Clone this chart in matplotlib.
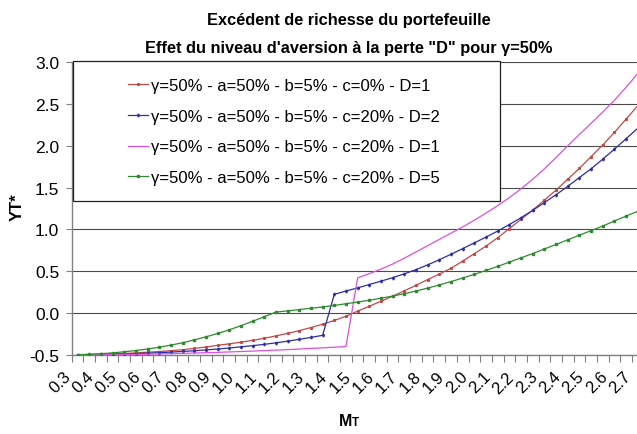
import matplotlib

matplotlib.use("Agg")
import matplotlib.pyplot as plt
import matplotlib.transforms as mtransforms
import numpy as np
from matplotlib.patches import Rectangle

plt.rcParams["font.family"] = ["Liberation Sans", "DejaVu Sans"]

# Valeurs de M_T (pas de 0.05) et étiquettes affichées une sur deux
m_values = [round(0.30 + 0.05 * i, 2) for i in range(49)]
tick_labels = [f"{m:.1f}" for m in m_values[::2]]

# gamma=50% a=50% b=5% c=0% D=1
y_c0_d1 = [
    -0.500, -0.498, -0.495, -0.490, -0.485, -0.478, -0.470, -0.462, -0.452, -0.440,
    -0.425, -0.408, -0.388, -0.370, -0.350, -0.328, -0.303, -0.275, -0.245, -0.212,
    -0.175, -0.135, -0.090, -0.040, 0.022, 0.080, 0.140, 0.200, 0.265, 0.330,
    0.400, 0.465, 0.535, 0.620, 0.710, 0.800, 0.900, 1.010, 1.120, 1.230,
    1.350, 1.470, 1.600, 1.730, 1.870, 2.010, 2.160, 2.320, 2.480,
]
# gamma=50% a=50% b=5% c=20% D=2
y_c20_d2 = [
    -0.500, -0.499, -0.497, -0.494, -0.491, -0.487, -0.482, -0.476, -0.469, -0.461,
    -0.453, -0.443, -0.432, -0.420, -0.406, -0.392, -0.376, -0.358, -0.338, -0.316,
    -0.293, -0.268, 0.223, 0.262, 0.300, 0.340, 0.380, 0.422, 0.468, 0.518,
    0.575, 0.637, 0.702, 0.770, 0.838, 0.908, 0.980, 1.058, 1.140, 1.228,
    1.320, 1.415, 1.515, 1.620, 1.725, 1.840, 1.960, 2.085, 2.210,
]
# gamma=50% a=50% b=5% c=20% D=1
y_c20_d1 = [
    -0.500, -0.500, -0.499, -0.498, -0.497, -0.495, -0.493, -0.490, -0.487, -0.484,
    -0.480, -0.476, -0.472, -0.467, -0.462, -0.457, -0.451, -0.445, -0.439, -0.432,
    -0.425, -0.418, -0.410, -0.402, 0.420, 0.470, 0.525, 0.585, 0.655, 0.730,
    0.805, 0.880, 0.955, 1.030, 1.110, 1.195, 1.285, 1.380, 1.485, 1.600,
    1.725, 1.860, 2.000, 2.135, 2.270, 2.405, 2.545, 2.700, 2.865,
]
# gamma=50% a=50% b=5% c=20% D=5
y_c20_d5 = [
    -0.500, -0.495, -0.488, -0.478, -0.465, -0.450, -0.432, -0.410, -0.385, -0.357,
    -0.323, -0.286, -0.246, -0.202, -0.153, -0.100, -0.045, 0.010, 0.025, 0.040,
    0.056, 0.072, 0.090, 0.110, 0.130, 0.152, 0.176, 0.202, 0.230, 0.262,
    0.297, 0.335, 0.375, 0.418, 0.462, 0.508, 0.557, 0.608, 0.660, 0.710,
    0.765, 0.820, 0.875, 0.930, 0.985, 1.040, 1.100, 1.160, 1.216,
]

labels = [
    "γ=50% - a=50% - b=5% - c=0% - D=1",
    "γ=50% - a=50% - b=5% - c=20% - D=2",
    "γ=50% - a=50% - b=5% - c=20% - D=1",
    "γ=50% - a=50% - b=5% - c=20% - D=5",
]
series = [y_c0_d1, y_c20_d2, y_c20_d1, y_c20_d5]
colors = ["#C24848", "#2D2DA5", "#DD4FDD", "#2F8A2F"]
markers = ["s", "d", None, "s"]
marker_sizes = [1.2, 1.5, 0, 1.9]

fig = plt.figure(figsize=(6.37, 4.35), dpi=100)
# la zone de tracé déborde à droite de l'image
ax = fig.add_axes([0.1126, 0.1823, 0.8977, 0.6722])

x = np.arange(len(m_values))
for ys, lab, col, mk, ms in zip(series, labels, colors, markers, marker_sizes):
    ax.plot(x, ys, color=col, lw=0.9, marker=mk, ms=ms, mec=col, mfc=col,
            label=lab, zorder=3)

ax.set_xlim(-0.5, len(m_values) - 0.5)
ax.set_ylim(-0.5, 3.0)
ax.set_yticks(np.arange(-0.5, 3.01, 0.5))
ax.set_yticklabels([f"{v:.1f}" for v in np.arange(-0.5, 3.01, 0.5)], fontsize=12.5)
ax.yaxis.grid(True, color="#4a4a4a", lw=0.8, zorder=1)
ax.tick_params(axis="y", length=4, width=0.8, color="#808080", pad=5)

# graduations entre les catégories, étiquettes une sur deux
ax.set_xticks(x[::2])
ax.set_xticklabels(tick_labels, rotation=45, ha="right", va="top", fontsize=12)
ax.set_xticks(np.arange(-0.5, len(m_values), 1.0), minor=True)
ax.tick_params(axis="x", which="major", length=0, pad=10)
ax.tick_params(axis="x", which="minor", length=5, width=0.8, color="#808080")
shift = mtransforms.ScaledTranslation(-4 / 100, 0, fig.dpi_scale_trans)
for lbl in ax.get_xticklabels():
    lbl.set_transform(lbl.get_transform() + shift)

for side in ["top", "right"]:
    ax.spines[side].set_visible(False)
for side in ["left", "bottom"]:
    ax.spines[side].set_color("#808080")
    ax.spines[side].set_linewidth(1.0)

# cadre de la légende
ax.add_patch(Rectangle((0.0023, 0.5257), 0.7468, 0.4788, transform=ax.transAxes,
                       facecolor="white", edgecolor="#202020", lw=0.9,
                       zorder=5, clip_on=False))
ax.legend(loc="center left", bbox_to_anchor=(0.0985, 0.7633), frameon=False,
          fontsize=12, handlelength=1.2, handletextpad=0.2, labelspacing=0.95,
          borderpad=0, borderaxespad=0, numpoints=1).set_zorder(6)

fig.text(0.548, 0.9425, "Excédent de richesse du portefeuille", ha="center",
         va="baseline", fontsize=11.8, fontweight="bold")
fig.text(0.548, 0.878, "Effet du niveau d'aversion à la perte \"D\" pour γ=50%",
         ha="center", va="baseline", fontsize=11.8, fontweight="bold")

fig.text(0.027, 0.524, "YT*", rotation=90, ha="center", va="center",
         fontsize=12, fontweight="bold")
fig.text(0.553, 0.020, "M", ha="right", va="baseline", fontsize=11.5,
         fontweight="bold")
fig.text(0.553, 0.020, "T", ha="left", va="baseline", fontsize=8.5,
         fontweight="bold")

fig.savefig("out.png", dpi=100)
